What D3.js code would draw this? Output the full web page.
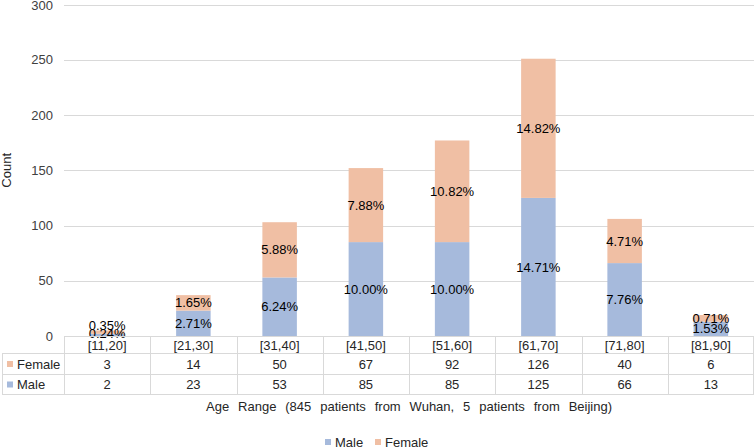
<!DOCTYPE html>
<html><head><meta charset="utf-8">
<script src="https://cdn.jsdelivr.net/npm/d3@7"></script>
<style>body{margin:0;background:#fff}svg{display:block;font-family:"Liberation Sans",Arial,sans-serif}</style>
</head><body><svg id="c" width="754" height="448"></svg>
<script>
const categories = ["[11,20]","[21,30]","[31,40]","[41,50]","[51,60]","[61,70]","[71,80]","[81,90]"];
const female = [3,14,50,67,92,126,40,6];
const male = [2,23,53,85,85,125,66,13];
const seriesNames = ["Male","Female"];
const yTicks = [0,50,100,150,200,250,300];
const xTitle = "Age Range (845 patients from Wuhan, 5 patients from Beijing)";
const yTitle = "Count";

const colors = {Male:"#a6badc", Female:"#f0bfa4"};
const W = 754, H = 448;
const L = 64, R = 754, T = 4.6, B = 336;
const svg = d3.select("#c");
const total = d3.sum(male) + d3.sum(female);

const x = d3.scaleBand().domain(categories).range([L,R]).paddingInner(0.6).paddingOuter(0.3);
const y = d3.scaleLinear().domain([0,300]).range([B,T]);
const step = x.step();
const colX = c => L + categories.indexOf(c)*step;

// gridlines
svg.append("g").selectAll("line").data(yTicks.filter(d=>d>0)).join("line")
  .attr("x1",L).attr("x2",R).attr("y1",d=>Math.round(y(d))+0.5).attr("y2",d=>Math.round(y(d))+0.5)
  .attr("stroke","#d9d9d9").attr("stroke-width",1);

// y tick labels
svg.append("g").selectAll("text").data(yTicks).join("text")
  .attr("x",53).attr("y",d=>Math.max(y(d),5.5)).attr("dy","0.35em").attr("text-anchor","end")
  .attr("font-size",13).attr("fill","#404040").text(d=>d);

// y title
svg.append("text").attr("transform",`translate(11,${(T+B)/2}) rotate(-90)`)
  .attr("text-anchor","middle").attr("font-size",13).attr("fill","#262626").text(yTitle);

// stacked bars
const rows = categories.map((c,i)=>({cat:c, Male:male[i], Female:female[i]}));
const stack = d3.stack().keys(seriesNames)(rows);
const gBars = svg.append("g");
stack.forEach(s=>{
  gBars.append("g").attr("fill",colors[s.key]).selectAll("rect").data(s).join("rect")
    .attr("x",d=>x(d.data.cat)).attr("width",x.bandwidth())
    .attr("y",d=>y(d[1])).attr("height",d=>y(d[0])-y(d[1]));
});
// data labels (centered, nudged apart when segments are tiny)
const gLab = svg.append("g");
categories.forEach((c,i)=>{
  const mSeg = stack[0][i], fSeg = stack[1][i];
  const my = Math.min(y((mSeg[0]+mSeg[1])/2), B-3);
  const fy = Math.min(y((fSeg[0]+fSeg[1])/2), my-8);
  [[mSeg,"Male",my],[fSeg,"Female",fy]].forEach(([seg,key,ly])=>{
    gLab.append("text").attr("x",x(c)+x.bandwidth()/2).attr("y",ly).attr("dy","0.35em")
      .attr("text-anchor","middle").attr("font-size",13).attr("fill","#000")
      .text((seg.data[key]/total*100).toFixed(2)+"%");
  });
});

// table
const tbl = svg.append("g").attr("stroke","#d9d9d9").attr("stroke-width",1);
const rowY = [336, 353, 374, 394];
tbl.append("line").attr("x1",L).attr("x2",R).attr("y1",rowY[0]+0.5).attr("y2",rowY[0]+0.5);
[1,2,3].forEach(k=>tbl.append("line").attr("x1",2).attr("x2",R).attr("y1",rowY[k]+0.5).attr("y2",rowY[k]+0.5));
tbl.append("line").attr("x1",2.5).attr("x2",2.5).attr("y1",rowY[1]).attr("y2",rowY[3]+0.5);
d3.range(categories.length+1).forEach(i=>{
  const xx = Math.min(Math.round(L+i*step)+0.5, R-0.5);
  tbl.append("line").attr("x1",xx).attr("x2",xx).attr("y1",rowY[0]).attr("y2",rowY[3]+0.5);
});
// category labels
svg.append("g").selectAll("text").data(categories).join("text")
  .attr("x",c=>colX(c)+step/2).attr("y",(rowY[0]+rowY[1])/2+1).attr("dy","0.35em")
  .attr("text-anchor","middle").attr("font-size",13).attr("fill","#262626").text(c=>c);
// series rows
const tableRows = [{name:"Female", vals:female, y0:rowY[1], y1:rowY[2]},{name:"Male", vals:male, y0:rowY[2], y1:rowY[3]}];
tableRows.forEach(r=>{
  const cy = (r.y0+r.y1)/2+0.5;
  svg.append("rect").attr("x",7).attr("y",cy-3).attr("width",6).attr("height",6).attr("fill",colors[r.name]);
  svg.append("text").attr("x",17).attr("y",cy).attr("dy","0.35em").attr("font-size",13).attr("fill","#262626").text(r.name);
  svg.append("g").selectAll("text").data(r.vals).join("text")
    .attr("x",(d,i)=>L+i*step+step/2).attr("y",cy).attr("dy","0.35em").attr("text-anchor","middle")
    .attr("font-size",13).attr("fill","#262626").text(d=>d);
});

// x title
const xt = svg.append("text").attr("x",(L+R)/2).attr("y",406).attr("dy","0.35em").attr("text-anchor","middle")
  .attr("font-size",13).attr("fill","#262626").text(xTitle);
const nat = xt.node().getComputedTextLength();
const gaps = xTitle.split(" ").length-1;
xt.attr("word-spacing", Math.max(0,(406-nat)/gaps));

// legend
const leg = svg.append("g");
const legItems = [{name:"Male", x:325},{name:"Female", x:375}];
legItems.forEach(it=>{
  leg.append("rect").attr("x",it.x).attr("y",439).attr("width",6).attr("height",6).attr("fill",colors[it.name]);
  leg.append("text").attr("x",it.x+10).attr("y",442).attr("dy","0.35em").attr("font-size",13).attr("fill","#262626").text(it.name);
});
</script></body></html>
